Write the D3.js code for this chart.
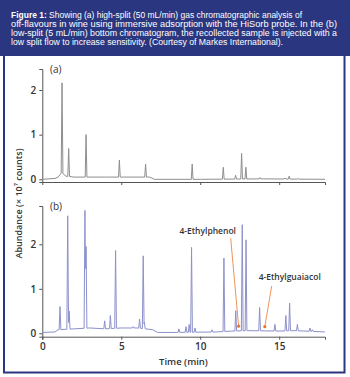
<!DOCTYPE html>
<html><head><meta charset="utf-8">
<script src="https://cdn.jsdelivr.net/npm/d3@7"></script>
<style>html,body{margin:0;padding:0;background:#fff;}svg{display:block;}</style>
</head><body>
<script>
// ---------- data ----------
const captionLines = [
  ["Figure 1:", " Showing (a) high-split (50 mL/min) gas chromatographic analysis of"],
  ["", "off-flavours in wine using immersive adsorption with the HiSorb probe. In the (b)"],
  ["", "low-split (5 mL/min) bottom chromatogram, the recollected sample is injected with a"],
  ["", "low split flow to increase sensitivity. (Courtesy of Markes International)."]
];
const timeTicks = [0, 5, 10, 15];
const abundanceTicks = [0, 1, 2];
const panelLabels = ["(a)", "(b)"];
const xTitle = "Time (min)";
const yTitle = "Abundance (\u00d7 10\u2077 counts)";

// panel (a): high split
const peakTimeA   = [1.25, 1.67, 2.77, 4.88, 6.54, 9.49, 11.46, 12.24, 12.62, 12.89, 13.78, 15.36, 15.63, 16.2];
const peakHeightA = [2.16, 0.69, 1.00, 0.43, 0.34, 0.34, 0.27, 0.09, 0.58, 0.27, 0.04, 0.03, 0.07, 0.02];
const baseTimeA   = [0, 0.8, 1.0, 1.2, 1.5, 2.0, 4.0, 6.8, 7.1, 10, 14, 17.9];
const baseValueA  = [0, 0.02, 0.05, 0.14, 0.07, 0.05, 0.05, 0.05, 0.0, 0.0, 0.01, 0.0];

// panel (b): low split
const peakTimeB   = [1.12, 1.61, 1.70, 2.70, 2.77, 3.95, 4.31, 4.64, 5.76, 6.16, 6.39, 6.46, 8.65, 9.10, 9.30, 9.45, 9.67, 10.75, 11.50, 12.25, 12.66, 12.90, 13.76, 14.73, 15.42, 15.66, 16.15, 16.95, 17.1];
const peakHeightB = [0.60, 2.64, 0.50, 2.76, 1.95, 0.28, 0.40, 1.86, 0.15, 0.32, 1.74, 0.25, 0.10, 0.15, 0.20, 1.93, 0.12, 0.08, 1.69, 0.51, 2.44, 2.10, 0.58, 0.20, 0.40, 0.68, 0.20, 0.12, 0.08];
const baseTimeB   = [0, 0.8, 1.0, 2.0, 3.0, 4.0, 5.0, 6.0, 7.0, 7.3, 8.5, 11, 12, 13, 15, 16, 17.9];
const baseValueB  = [0.02, 0.03, 0.08, 0.10, 0.12, 0.10, 0.12, 0.12, 0.08, 0.02, 0.02, 0.03, 0.05, 0.06, 0.05, 0.06, 0.03];

const annotNames = ["4-Ethylphenol", "4-Ethylguaiacol"];
const annotTime  = [12.43, 14.09];
const annotValue = [0.16, 0.15];

// ---------- drawing ----------
const W = 350, H = 377;
const svg = d3.select("body").append("svg").attr("width", W).attr("height", H);
const navy = "#2a3680";

svg.append("rect").attr("x", 0).attr("y", 0).attr("width", 350).attr("height", 56).attr("fill", navy);
svg.append("rect").attr("x", 4).attr("y", 55).attr("width", 340.5).attr("height", 317.5)
  .attr("fill", "#fff").attr("stroke", navy).attr("stroke-width", 2);

const capLens = [291, 326, 326, 272];
captionLines.forEach((ln, i) => {
  const t = svg.append("text").attr("x", 11).attr("y", 18.3 + i * 8.85)
    .attr("font-family", "Liberation Sans, Arial, sans-serif").attr("font-size", 9.2)
    .attr("fill", "#fff").attr("textLength", capLens[i]).attr("lengthAdjust", "spacingAndGlyphs");
  if (ln[0]) t.append("tspan").attr("font-weight", "bold").text(ln[0]);
  t.append("tspan").text(ln[1]);
});

const x = d3.scaleLinear().domain([0, 17.9]).range([42.3, 325]);
const halfW = 0.055;

function buildSeries(pt, ph, bt, bv) {
  const base = d3.scaleLinear().domain(bt).range(bv).clamp(true);
  const keys = new Set(bt);
  pt.forEach(t => { keys.add(t - halfW); keys.add(t); keys.add(t + halfW); });
  const ts = Array.from(keys).filter(t => t >= 0 && t <= 17.9).sort((a, b) => a - b);
  return ts.map(t => {
    let v = base(t);
    pt.forEach((p, i) => {
      const d = Math.abs(t - p);
      if (d < halfW) {
        const b0 = base(p);
        v = Math.max(v, b0 + (ph[i] - b0) * (1 - d / halfW));
      } else if (d < 1e-9) v = Math.max(v, ph[i]);
    });
    return [t, v];
  });
}

const font = "Open Sans, Liberation Sans, sans-serif";
function panel(cfg) {
  const y = d3.scaleLinear().domain(cfg.ydom).range(cfg.yrange);
  const g = svg.append("g");
  // axes
  const yAx = g.append("g").attr("transform", `translate(${x.range()[0]},0)`)
    .call(d3.axisLeft(y).tickValues(abundanceTicks).tickSize(3).tickPadding(3).tickFormat(d3.format("d")));
  const xAx = g.append("g").attr("transform", `translate(0,${cfg.yrange[0]})`)
    .call(d3.axisBottom(x).tickValues(cfg.showX ? timeTicks : timeTicks.slice(1)).tickSize(3).tickPadding(3)
      .tickFormat(cfg.showX ? d3.format("d") : ""));
  [yAx, xAx].forEach(a => {
    a.select(".domain").attr("stroke", "#555").attr("stroke-width", 1);
    a.selectAll(".tick line").attr("stroke", "#555");
    a.selectAll("text").attr("font-family", font).attr("font-size", 10).attr("font-weight", 600).attr("fill", "#333");
  });
  const data = buildSeries(cfg.pt, cfg.ph, cfg.bt, cfg.bv);
  g.append("path").datum(data)
    .attr("d", d3.line().x(d => x(d[0])).y(d => y(d[1])))
    .attr("fill", "none").attr("stroke", cfg.color).attr("stroke-width", 1);
  g.append("text").attr("x", 50).attr("y", cfg.yrange[1] + 3.5).text(cfg.label)
    .attr("font-family", font).attr("font-size", 10).attr("fill", "#333");
  return y;
}

panel({ydom: [-0.06, 2.47], yrange: [182, 69], pt: peakTimeA, ph: peakHeightA, bt: baseTimeA, bv: baseValueA,
  color: "#8e8e8e", label: panelLabels[0], showX: false});
const yB = panel({ydom: [-0.076, 2.86], yrange: [336.7, 206], pt: peakTimeB, ph: peakHeightB, bt: baseTimeB, bv: baseValueB,
  color: "#8d91cb", label: panelLabels[1], showX: true});

svg.append("text").attr("x", 183.5).attr("y", 364.5).attr("text-anchor", "middle").text(xTitle)
  .attr("font-family", font).attr("font-size", 9.5).attr("font-weight", 600).attr("fill", "#333");
svg.append("text").attr("transform", "translate(22,203.5) rotate(-90)").attr("text-anchor", "middle").text(yTitle)
  .attr("font-family", font).attr("font-size", 9).attr("font-weight", 600).attr("fill", "#333");

// annotations
const orange = "#e8772e";
const labelPos = [[207.7, 234], [289.7, 279.7]];
const lineStart = [[230.7, 238.3], [271.7, 286]];
annotNames.forEach((n, i) => {
  svg.append("line").attr("x1", lineStart[i][0]).attr("y1", lineStart[i][1])
    .attr("x2", x(annotTime[i])).attr("y2", yB(annotValue[i])).attr("stroke", orange).attr("stroke-width", 0.8);
  svg.append("circle").attr("cx", x(annotTime[i])).attr("cy", yB(annotValue[i])).attr("r", 1.6).attr("fill", orange);
  svg.append("text").attr("x", labelPos[i][0]).attr("y", labelPos[i][1]).attr("text-anchor", "middle").text(n)
    .attr("font-family", font).attr("font-size", 8.5).attr("font-weight", 600).attr("fill", "#333");
});
</script>
</body></html>
